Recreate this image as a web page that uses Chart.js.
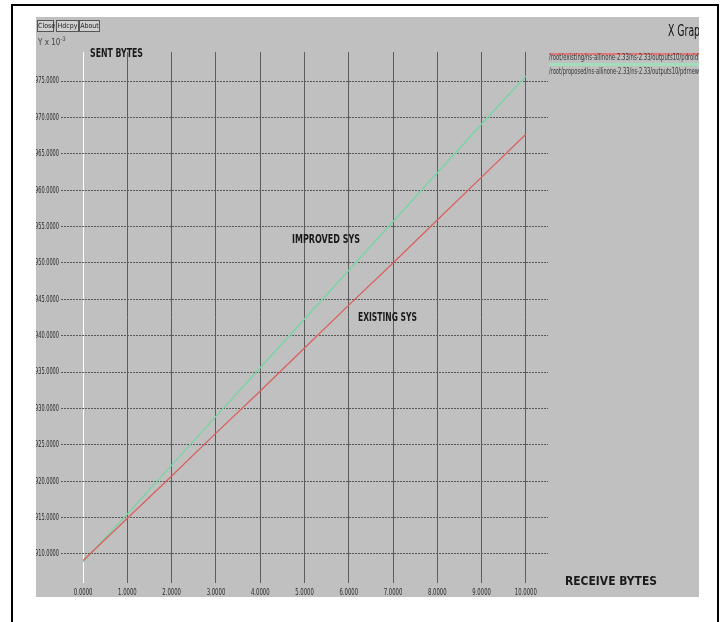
<!DOCTYPE html>
<html>
<head>
<meta charset="utf-8">
<script src="https://cdn.jsdelivr.net/npm/chart.js@4.4.1/dist/chart.umd.min.js"></script>
<style>
  html, body { margin: 0; padding: 0; background: #fff; }
  body { width: 725px; height: 622px; position: relative; overflow: hidden; font-family: "Liberation Sans Narrow", "DejaVu Sans Condensed", "Liberation Sans", sans-serif; }
  #frame { position: absolute; left: 11px; top: 4px; width: 704px; height: 700px; border: 2px solid #000; }
  #panel { position: absolute; left: 36px; top: 17px; width: 663px; height: 580px; background: #c0c0c0; overflow: hidden; }
  #plot { position: absolute; left: 0; top: 0; }
  .txt { position: absolute; white-space: nowrap; transform-origin: 0 50%; line-height: 1; }
  .bold { font-weight: bold; color: #1a1a1a; font-size: 12px; }
  .btn { position: absolute; top: 3px; height: 10px; border: 1px solid #555; background: #cfcfcf; font-size: 7px; line-height: 10px; color: #222; text-align: center; }
  .leg { position: absolute; left: 513px; width: 160px; }
</style>
</head>
<body>
<div id="frame"></div>
<div id="panel">
  <canvas id="plot" width="663" height="580"></canvas>
  <div class="btn" style="left:1px;width:15px;">Close</div>
  <div class="btn" style="left:20px;width:21px;">Hdcpy</div>
  <div class="btn" style="left:43px;width:19px;">About</div>
  <div class="txt" style="left:2px;top:19px;font-size:8px;color:#444;">Y x 10<sup style="font-size:6px;">-3</sup></div>
  <div class="txt fit" data-ref="X Grap" data-w="32" style="left:632px;top:6px;font-size:16px;color:#111;">X Graph</div>
  <div class="leg" style="top:36px;height:2px;background:#e07878;"></div>
  <div class="txt fit" data-w="156" style="left:513px;top:37px;font-size:8px;color:#333;">/root/existing/ns-allinone-2.33/ns-2.33/outputs10/pdrold10</div>
  <div class="leg" style="top:46px;height:3px;background:#9fe0bb;"></div>
  <div class="txt fit" data-ref="/root/proposed/ns-allinone-2.33/ns-2.33/outputs10/pdrnew" data-w="150" style="left:513px;top:51px;font-size:8px;color:#333;">/root/proposed/ns-allinone-2.33/ns-2.33/outputs10/pdrnew10</div>
  <div class="txt bold fit" data-w="53" style="left:54px;top:30px;">SENT BYTES</div>
  <div class="txt bold fit" data-w="68" style="left:256px;top:216px;">IMPROVED SYS</div>
  <div class="txt bold fit" data-w="59" style="left:322px;top:294px;">EXISTING SYS</div>
  <div class="txt bold fit" data-w="92" style="left:529px;top:557px;font-size:13px;">RECEIVE BYTES</div>
</div>
<script>
// Received bytes (x) and sent bytes (y, in units of 10^-3)
const receiveBytes = [0, 1, 2, 3, 4, 5, 6, 7, 8, 9, 10];
const existingSys  = [909.1, 914.9, 920.7, 926.6, 932.4, 938.3, 944.2, 950.0, 955.9, 961.8, 967.7];
const improvedSys  = [908.9, 915.5, 922.2, 928.9, 935.6, 942.3, 949.0, 955.7, 962.4, 969.1, 975.7];
const xTickValues  = [0, 1, 2, 3, 4, 5, 6, 7, 8, 9, 10];
const yTickValues  = [910, 915, 920, 925, 930, 935, 940, 945, 950, 955, 960, 965, 970, 975];

// squeeze captions horizontally to their target widths
const mctx = document.createElement('canvas').getContext('2d');
document.querySelectorAll('.fit').forEach(el => {
  const cs = getComputedStyle(el);
  mctx.font = cs.fontWeight + ' ' + cs.fontSize + ' ' + cs.fontFamily;
  const w = mctx.measureText(el.dataset.ref || el.textContent).width;
  el.style.transform = 'scaleX(' + (parseFloat(el.dataset.w) / w) + ')';
});

const tickFamily = "'Liberation Sans Narrow', 'DejaVu Sans Condensed', sans-serif";
const tickFont = { family: tickFamily, size: 9 };
mctx.font = '9px ' + tickFamily;
const yLabelSqueeze = 24 / mctx.measureText('975.0000').width;
const xLabelSqueeze = 22 / mctx.measureText('10.0000').width;

// narrow the axis labels in place (keeps each label anchored at its own point)
function squeezeLabels(scale, sx) {
  if (scale._squeezed) return;
  scale._squeezed = true;
  const orig = scale.drawLabels;
  scale.drawLabels = function (area) {
    const ctx = this.ctx;
    const rot = ctx.rotate;
    ctx.rotate = function (a) { rot.call(this, a); this.scale(sx, 1); };
    orig.call(this, area);
    ctx.rotate = rot;
  };
}

new Chart(document.getElementById('plot'), {
  type: 'line',
  data: {
    datasets: [
      {
        label: 'existing',
        data: receiveBytes.map((x, i) => ({ x: x, y: existingSys[i] })),
        borderColor: '#d9605c',
        borderWidth: 1.3,
        pointRadius: 0,
        tension: 0
      },
      {
        label: 'proposed',
        data: receiveBytes.map((x, i) => ({ x: x, y: improvedSys[i] })),
        borderColor: '#74d6a2',
        borderWidth: 1.3,
        pointRadius: 0,
        tension: 0
      }
    ]
  },
  options: {
    responsive: false,
    devicePixelRatio: 1,
    animation: false,
    layout: { padding: { left: 0, top: 35, right: 151, bottom: 0 } },
    plugins: { legend: { display: false }, tooltip: { enabled: false } },
    scales: {
      x: {
        type: 'linear',
        min: -0.5,
        max: 10.5,
        afterBuildTicks: s => { s.ticks = xTickValues.map(v => ({ value: v })); },
        afterFit: s => { s.height = 14; },
        border: { display: false },
        grid: {
          drawTicks: false,
          lineWidth: 1,
          color: c => (c.tick && c.tick.value === 0) ? '#ffffff' : '#5c5c5c'
        },
        ticks: {
          padding: 4,
          color: '#2a2a2a',
          font: tickFont,
          maxRotation: 0,
          autoSkip: false,
          callback: v => Number(v).toFixed(4)
        }
      },
      y: {
        type: 'linear',
        min: 906,
        max: 979,
        afterBuildTicks: s => { s.ticks = yTickValues.map(v => ({ value: v })); },
        afterFit: s => { s.width = 25; },
        border: { display: false, dash: [2, 1] },
        grid: {
          drawTicks: false,
          lineWidth: 1,
          color: '#585858'
        },
        ticks: {
          padding: 2,
          color: '#2a2a2a',
          font: tickFont,
          autoSkip: false,
          callback: v => Number(v).toFixed(4)
        }
      }
    }
  },
  plugins: [{
    id: 'narrowLabels',
    beforeDraw(chart) {
      squeezeLabels(chart.scales.x, xLabelSqueeze);
      squeezeLabels(chart.scales.y, yLabelSqueeze);
    }
  }]
});
</script>
</body>
</html>
